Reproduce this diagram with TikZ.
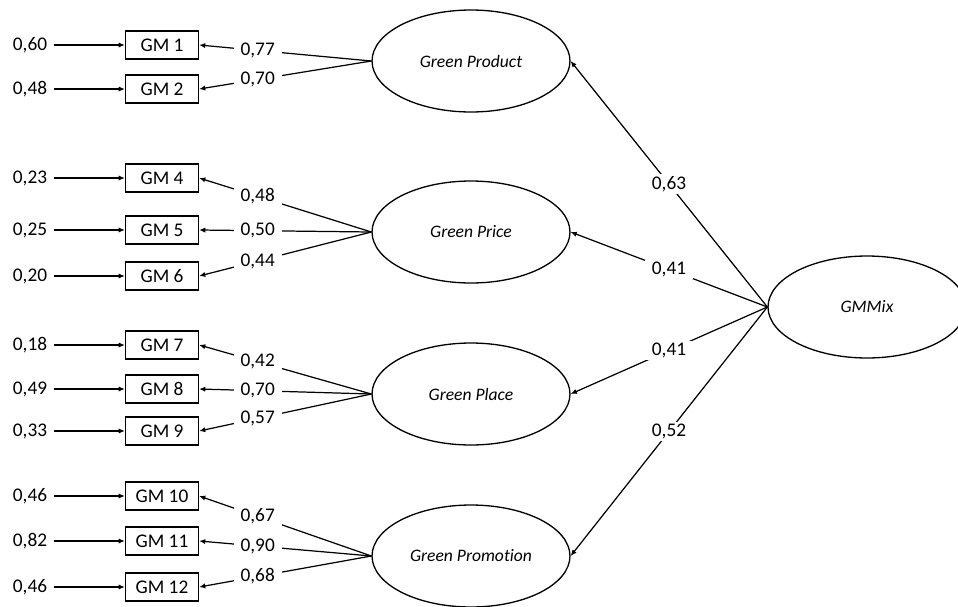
\documentclass[tikz,border=0pt]{standalone}
\usepackage{fontspec}
\setmainfont{Carlito}[Ligatures=CommonOff]
\usepackage{tikz}
\usetikzlibrary{arrows.meta, shapes.geometric, positioning}

\tikzset{
  obs/.style={draw, line width=0.75pt, minimum width=1.46cm, minimum height=0.56cm, inner sep=0pt},
  lat/.style={draw, ellipse, line width=0.75pt, minimum width=3.96cm, minimum height=2.04cm, inner sep=0pt, font=\itshape},
  err/.style={inner sep=4pt},
  lbl/.style={fill=white, inner xsep=4pt, inner ysep=1pt},
  path/.style={line width=0.7pt, -{Latex[length=3.5pt,width=3pt]}}
}

\begin{document}
\begin{tikzpicture}[x=0.02cm, y=-0.02cm, font=\fontsize{11pt}{13pt}\selectfont]

        \useasboundingbox (0,0) rectangle (958,606);

        % Các biến tiềm ẩn
        \node[lat] (prod) at (471,61) {Green Product};
        \node[lat] (price) at (471,232) {Green Price};
        \node[lat] (place) at (471,394) {Green Place};
        \node[lat] (promo) at (471,556) {Green Promotion};
        \node[lat] (mix) at (867,307) {GMMix};

        % Các biến quan sát, sai số và hệ số tải
        \foreach \i/\y/\e/\l/\c in {1/45/{0,60}/{0,77}/prod, 2/89/{0,48}/{0,70}/prod,
                4/178/{0,23}/{0,48}/price, 5/230/{0,25}/{0,50}/price, 6/276/{0,20}/{0,44}/price,
                7/345/{0,18}/{0,42}/place, 8/389/{0,49}/{0,70}/place, 9/431/{0,33}/{0,57}/place,
                10/496/{0,46}/{0,67}/promo, 11/541/{0,82}/{0,90}/promo, 12/587/{0,46}/{0,68}/promo}{
          \node[obs] (gm\i) at (162,\y) {GM \i};
          \node[err] (e\i) at (30,\y) {\e};
          \draw[path] (e\i) -- (gm\i);
          \draw[path] (\c.west) -- node[lbl, pos=0.66] {\l} (gm\i.east);
        }

        % Hệ số tải bậc hai
        \draw[path] (mix.west) -- node[lbl] {0,63} (prod.east);
        \draw[path] (mix.west) -- node[lbl] {0,41} (price.east);
        \draw[path] (mix.west) -- node[lbl] {0,41} (place.east);
        \draw[path] (mix.west) -- node[lbl] {0,52} (promo.east);

\end{tikzpicture}
\end{document}
